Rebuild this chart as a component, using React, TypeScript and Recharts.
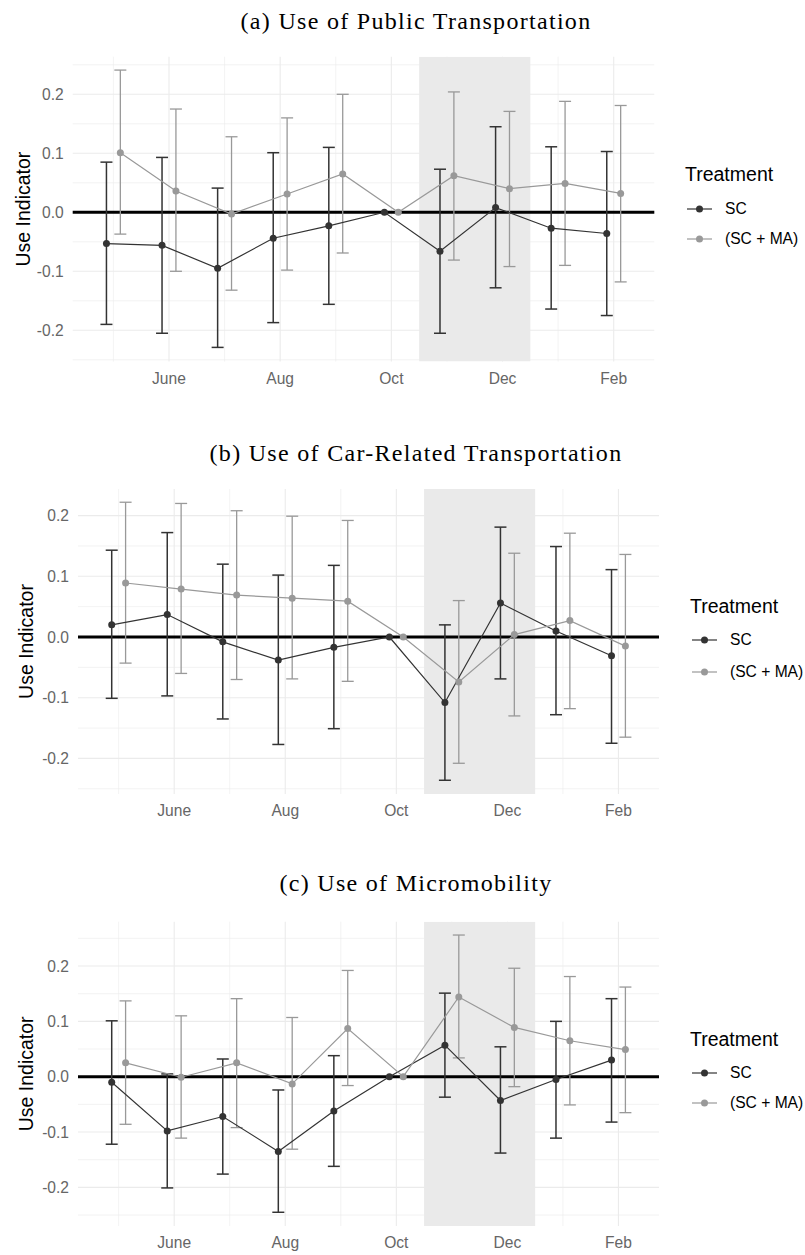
import React from "react";
import { ComposedChart, Line, ErrorBar, XAxis, YAxis, CartesianGrid, ReferenceArea, ReferenceLine } from "recharts";

const months = ["May", "Jun", "Jul", "Aug", "Sep", "Oct", "Nov", "Dec", "Jan", "Feb"];
const tickPos = [1, 3, 5, 7, 9];
const tickLabels = ["June", "Aug", "Oct", "Dec", "Feb"];
const minorPos = [0, 2, 4, 6, 8];
const yTicks = [-0.2, -0.1, 0, 0.1, 0.2];
const yMinor = [-0.25, -0.15, -0.05, 0.05, 0.15, 0.25];
const shadeFrom = 5.5;
const shadeTo = 7.5;
const dodge = 0.125;

// (a) public transportation
const pubSC = [-0.053, -0.056, -0.095, -0.044, -0.023, 0, -0.066, 0.008, -0.027, -0.036];
const pubSCLow = [-0.19, -0.205, -0.229, -0.187, -0.156, null, -0.205, -0.128, -0.164, -0.175];
const pubSCHigh = [0.085, 0.093, 0.041, 0.101, 0.11, null, 0.073, 0.145, 0.111, 0.103];
const pubMA = [0.101, 0.036, -0.003, 0.031, 0.065, 0, 0.062, 0.04, 0.049, 0.032];
const pubMALow = [-0.037, -0.1, -0.132, -0.098, -0.069, null, -0.081, -0.092, -0.09, -0.118];
const pubMAHigh = [0.241, 0.175, 0.128, 0.16, 0.2, null, 0.204, 0.171, 0.188, 0.181];

// (b) car-related
const carSC = [0.02, 0.037, -0.008, -0.038, -0.017, 0, -0.108, 0.056, 0.01, -0.031];
const carSCLow = [-0.101, -0.097, -0.135, -0.177, -0.151, null, -0.236, -0.069, -0.128, -0.175];
const carSCHigh = [0.143, 0.172, 0.12, 0.102, 0.118, null, 0.02, 0.181, 0.149, 0.111];
const carMA = [0.089, 0.079, 0.069, 0.064, 0.059, 0, -0.074, 0.004, 0.027, -0.015];
const carMALow = [-0.043, -0.06, -0.07, -0.069, -0.073, null, -0.208, -0.13, -0.118, -0.165];
const carMAHigh = [0.222, 0.22, 0.208, 0.199, 0.192, null, 0.06, 0.138, 0.171, 0.136];

// (c) micromobility
const microSC = [-0.01, -0.098, -0.072, -0.135, -0.062, 0, 0.057, -0.043, -0.005, 0.03];
const microSCLow = [-0.122, -0.201, -0.176, -0.245, -0.162, null, -0.037, -0.138, -0.111, -0.082];
const microSCHigh = [0.101, 0.005, 0.032, -0.024, 0.038, null, 0.151, 0.054, 0.1, 0.141];
const microMA = [0.025, -0.001, 0.025, -0.013, 0.087, 0, 0.144, 0.089, 0.065, 0.049];
const microMALow = [-0.086, -0.111, -0.092, -0.131, -0.016, null, 0.034, -0.018, -0.051, -0.065];
const microMAHigh = [0.137, 0.11, 0.141, 0.107, 0.192, null, 0.256, 0.196, 0.181, 0.162];

const SC_COLOR = "#333333";
const MA_COLOR = "#999999";
const TICK_COLOR = "#666666";
const SANS = '"Liberation Sans", Arial, Helvetica, sans-serif';
const SERIF = '"Liberation Serif", "Times New Roman", serif';

type Row = { x: number; y: number; err: number[] | null };

const toRows = (vals: number[], lo: (number | null)[], hi: (number | null)[], shift: number): Row[] =>
  months.map((_, i) => ({
    x: i + shift,
    y: vals[i],
    err: lo[i] == null || hi[i] == null ? null : [vals[i] - (lo[i] as number), (hi[i] as number) - vals[i]],
  }));

const panels = [
  {
    title: "(a) Use of Public Transportation",
    top: 0,
    titleTop: 8.8,
    plotTop: 56.7,
    plotBottom: 361.5,
    plotLeft: 72.7,
    plotRight: 654.3,
    yDomain: [-0.2529, 0.2637],
    yLabelX: 23.5,
    sc: toRows(pubSC, pubSCLow, pubSCHigh, -dodge),
    ma: toRows(pubMA, pubMALow, pubMAHigh, dodge),
    key: { left: 685, titleY: 174, rows: [209, 239], symLeft: 686.7, textLeft: 725 },
  },
  {
    title: "(b) Use of Car-Related Transportation",
    top: 430,
    titleTop: 440.5,
    plotTop: 489,
    plotBottom: 794,
    plotLeft: 78,
    plotRight: 659,
    yDomain: [-0.2586, 0.2438],
    yLabelX: 26,
    sc: toRows(carSC, carSCLow, carSCHigh, -dodge),
    ma: toRows(carMA, carMALow, carMAHigh, dodge),
    key: { left: 690, titleY: 605.7, rows: [640, 671.7], symLeft: 692.3, textLeft: 730 },
  },
  {
    title: "(c) Use of Micromobility",
    top: 860,
    titleTop: 871.3,
    plotTop: 921.7,
    plotBottom: 1226,
    plotLeft: 78,
    plotRight: 659,
    yDomain: [-0.2698, 0.2801],
    yLabelX: 26,
    sc: toRows(microSC, microSCLow, microSCHigh, -dodge),
    ma: toRows(microMA, microMALow, microMAHigh, dodge),
    key: { left: 690, titleY: 1039.3, rows: [1073.3, 1103.3], symLeft: 692.3, textLeft: 730 },
  },
];

const XDOMAIN: [number, number] = [-0.732, 9.73];
const X_AXIS_H = 30;

function TreatmentKey({ k }: { k: (typeof panels)[number]["key"] }) {
  const items = [
    { label: "SC", color: SC_COLOR },
    { label: "(SC + MA)", color: MA_COLOR },
  ];
  return (
    <>
      <div
        style={{
          position: "absolute",
          left: k.left,
          top: k.titleY - 10,
          fontFamily: SANS,
          fontSize: 19.5,
          lineHeight: "20px",
          color: "#000",
          whiteSpace: "nowrap",
        }}
      >
        Treatment
      </div>
      {items.map((it, i) => (
        <React.Fragment key={it.label}>
          <svg
            width={25}
            height={10}
            style={{ position: "absolute", left: k.symLeft, top: k.rows[i] - 5 }}
          >
            <line x1={0} y1={5} x2={25} y2={5} stroke={it.color} strokeWidth={1.2} />
            <circle cx={12.5} cy={5} r={3.5} fill={it.color} />
          </svg>
          <div
            style={{
              position: "absolute",
              left: k.textLeft,
              top: k.rows[i] - 8,
              fontFamily: SANS,
              fontSize: 15.6,
              lineHeight: "16px",
              color: "#000",
              whiteSpace: "nowrap",
            }}
          >
            {it.label}
          </div>
        </React.Fragment>
      ))}
    </>
  );
}

function Panel({ p }: { p: (typeof panels)[number] }) {
  const height = p.plotBottom - p.top + X_AXIS_H;
  const inY = (v: number) => v > p.yDomain[0] && v < p.yDomain[1];
  return (
    <>
      <div
        style={{
          position: "absolute",
          left: 116,
          width: 600,
          top: p.titleTop,
          textAlign: "center",
          fontFamily: SERIF,
          fontSize: 24,
          letterSpacing: 1.3,
          lineHeight: "24px",
          color: "#000",
          whiteSpace: "nowrap",
        }}
      >
        {p.title}
      </div>
      <div style={{ position: "absolute", left: 0, top: p.top }}>
        <ComposedChart
          width={805}
          height={height}
          margin={{ top: p.plotTop - p.top, right: 805 - p.plotRight, bottom: 0, left: 0 }}
        >
          <CartesianGrid
            stroke="#ebebeb"
            strokeWidth={0.6}
            horizontalValues={yMinor.filter(inY)}
            verticalValues={minorPos}
          />
          <CartesianGrid
            stroke="#ebebeb"
            strokeWidth={1.1}
            horizontalValues={yTicks}
            verticalValues={tickPos}
          />
          <XAxis
            type="number"
            dataKey="x"
            domain={XDOMAIN}
            allowDataOverflow
            ticks={tickPos}
            interval={0}
            tickFormatter={(v: number) => tickLabels[tickPos.indexOf(v)] ?? ""}
            axisLine={false}
            tickLine={false}
            tickSize={0}
            tickMargin={11}
            height={X_AXIS_H}
            tick={{ fontSize: 15.6, fill: TICK_COLOR, fontFamily: SANS }}
          />
          <YAxis
            type="number"
            domain={p.yDomain}
            allowDataOverflow
            ticks={yTicks}
            interval={0}
            tickFormatter={(v: number) => v.toFixed(1)}
            axisLine={false}
            tickLine={false}
            tickSize={0}
            tickMargin={9}
            width={p.plotLeft}
            tick={{ fontSize: 15.6, fill: TICK_COLOR, fontFamily: SANS }}
            label={{
              value: "Use Indicator",
              angle: -90,
              position: "insideLeft",
              offset: p.yLabelX,
              style: { textAnchor: "middle", fontSize: 19.5, fill: "#000", fontFamily: SANS },
            }}
          />
          <ReferenceArea x1={shadeFrom} x2={shadeTo} fill="#eaeaea" fillOpacity={1} stroke="none" ifOverflow="hidden" />
          <ReferenceLine y={0} stroke="#000" strokeWidth={3} />
          {/* error bars */}
          <Line data={p.sc} dataKey="y" stroke="none" dot={false} activeDot={false} isAnimationActive={false} legendType="none">
            <ErrorBar dataKey="err" direction="y" width={6} stroke={SC_COLOR} strokeWidth={1.5} isAnimationActive={false} />
          </Line>
          <Line data={p.ma} dataKey="y" stroke="none" dot={false} activeDot={false} isAnimationActive={false} legendType="none">
            <ErrorBar dataKey="err" direction="y" width={6} stroke={MA_COLOR} strokeWidth={1.3} isAnimationActive={false} />
          </Line>
          {/* lines */}
          <Line data={p.sc} dataKey="y" type="linear" stroke={SC_COLOR} strokeWidth={1.2} dot={false} activeDot={false} isAnimationActive={false} />
          <Line data={p.ma} dataKey="y" type="linear" stroke={MA_COLOR} strokeWidth={1.2} dot={false} activeDot={false} isAnimationActive={false} />
          {/* points */}
          <Line
            data={p.sc}
            dataKey="y"
            stroke="none"
            dot={{ r: 3.5, fill: SC_COLOR, stroke: "none" }}
            activeDot={false}
            isAnimationActive={false}
          />
          <Line
            data={p.ma}
            dataKey="y"
            stroke="none"
            dot={{ r: 3.5, fill: MA_COLOR, stroke: "none" }}
            activeDot={false}
            isAnimationActive={false}
          />
        </ComposedChart>
      </div>
      <TreatmentKey k={p.key} />
    </>
  );
}

export default function App() {
  return (
    <div style={{ position: "absolute", left: 0, top: 0, width: 805, height: 1255, background: "#fff" }}>
      {panels.map((p) => (
        <Panel key={p.title} p={p} />
      ))}
    </div>
  );
}
